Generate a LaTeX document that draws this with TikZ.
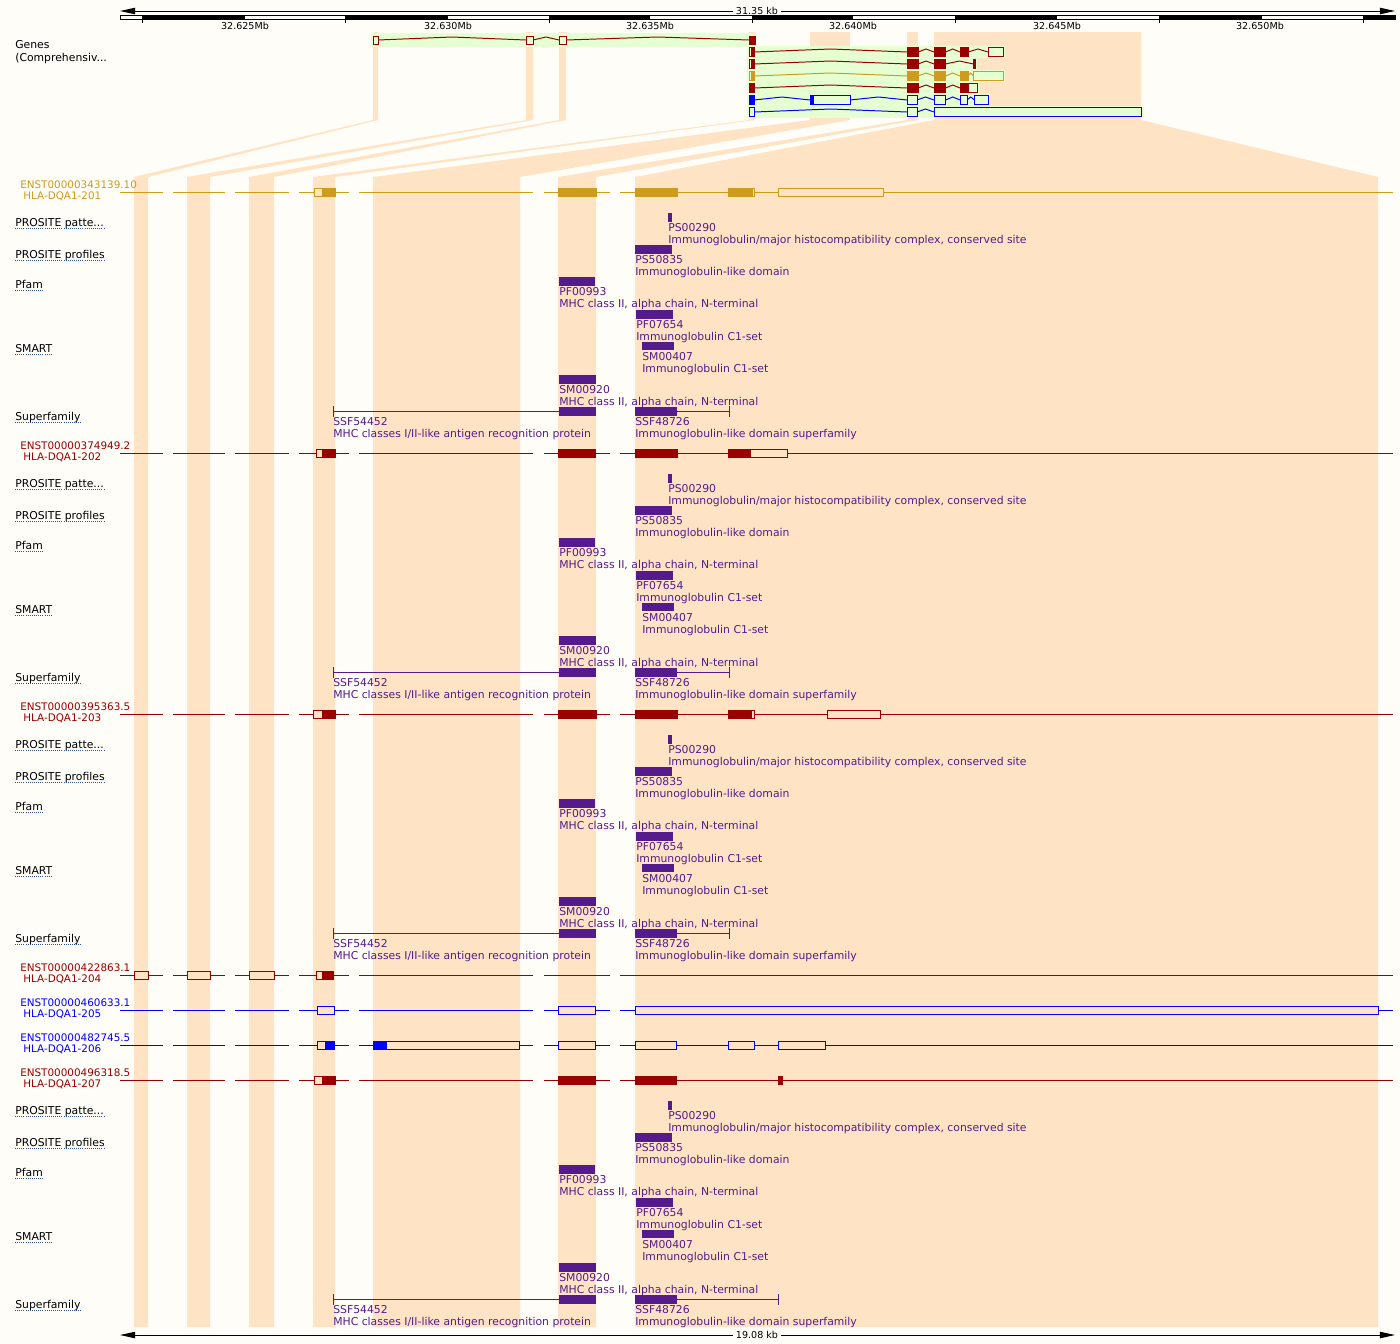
\documentclass[tikz,border=0pt]{standalone}
\usepackage{fontspec}
\setmainfont{DejaVu Sans}
\usetikzlibrary{arrows.meta}

\definecolor{paper}{RGB}{255,253,248}
\definecolor{peach}{RGB}{254,228,196}
\definecolor{hilite}{RGB}{230,255,210}
\definecolor{txred}{RGB}{155,0,0}
\definecolor{txgold}{RGB}{205,155,29}
\definecolor{txblue}{RGB}{0,0,255}
\definecolor{domcol}{RGB}{85,26,139}
\definecolor{linkblue}{RGB}{50,80,170}

\tikzset{
  lbl/.style={font=\fontsize{7.7}{9}\selectfont,anchor=base west,inner sep=0pt},
  txlbl/.style={lbl,font=\fontsize{7.4}{9}\selectfont,text=#1},
  dom/.style={lbl,text=domcol},
  rulelbl/.style={font=\fontsize{6.8}{8}\selectfont,anchor=base,inner sep=0pt},
  uline/.style={linkblue,line width=0.55pt,dash pattern=on 0.7pt off 0.8pt},
  exon/.style={fill=#1,draw=#1,line width=0.6pt},
  utr/.style={draw=#1,fill=peach,line width=0.7pt},
  utrhi/.style={draw=#1,fill=hilite,line width=0.7pt},
  tline/.style={draw=#1,line width=0.7pt},
  scaletip/.tip={Triangle[length=0.38cm,width=0.16cm]}
}
\newcommand{\intronhat}[4]{\draw[tline=#4] (#1,#3) -- ({(#1+#2)/2},{#3-3}) -- (#2,#3);}

\begin{document}
\begin{tikzpicture}[x=0.025cm,y=-0.025cm]
\fill[paper] (0,0) rectangle (1400,1343);
\useasboundingbox (0,0) rectangle (1400,1343);

% exon links, gene view -> transcript view
\foreach \a/\b/\c/\d in {373/378/134/148,526/533/187/210,559/566/249/274,749/755/313/335,
    810/850/373/520,907/918/558/596,934/1141/635/1378}
  \fill[peach] (\a,32) -- (\b,32) -- (\b,120) -- (\d,177) -- (\d,1327) -- (\c,1327) -- (\c,177) -- (\a,120) -- cycle;

% scale bar and ruler
\draw[line width=0.7pt,scaletip-scaletip] (120,11) -- (1395,11);
\node[rulelbl,fill=paper,inner xsep=0.08cm] (toplen) at (757,14) {31.35 kb};
\draw[line width=0.6pt] (120,15.5) rectangle (1395,19.5);
\foreach \a/\b in {142/245,345/448,549/650,752/853,955/1057,1159/1262,1363/1395}
  \fill (\a,15.5) rectangle (\b,19.5);
\foreach \x in {142,345,549,752,955,1159,1363}
  \draw[line width=0.5pt] (\x,19.5) -- (\x,23);
\foreach \x/\t in {245/625,448/630,650/635,853/640,1057/645,1260/650}
  \node[rulelbl] (mb\t) at (\x,29) {32.\t Mb};

% gene view
\node[lbl] (genes) at (15,48) {Genes};
\node[lbl] (genes2) at (15,61) {(Comprehensiv...};
\fill[hilite] (371,33) rectangle (756,47);
\foreach \y/\e in {52/1005,64/977,76/1005,88/979,100/990,112/1143}
  \fill[hilite] (747,\y-6) rectangle (\e,\y+6);

% row 0
\intronhat{378}{526}{40}{txred}
\intronhat{533}{559}{40}{txred}
\intronhat{566}{749}{40}{txred}
\foreach \a/\b in {373/378,526/533,559/566} \draw[utrhi=txred] (\a,36) rectangle (\b,44);
\draw[exon=txred] (749,36) rectangle (755,44);
% row 1
\intronhat{754}{907}{52}{txred}
\intronhat{918}{934}{52}{txred}
\intronhat{945.5}{960}{52}{txred}
\intronhat{968}{988}{52}{txred}
\draw[utrhi=txred] (749,47.5) rectangle (754,56.5);
\foreach \a/\b in {751/754,907/918,934/945.5,960/968} \draw[exon=txred] (\a,47.5) rectangle (\b,56.5);
\draw[utrhi=txred] (988,47.5) rectangle (1003,56.5);
% row 2
\intronhat{754}{907}{64}{txred}
\intronhat{918}{934}{64}{txred}
\intronhat{945.5}{973.5}{64}{txred}
\draw[utrhi=txred] (749,59.5) rectangle (754,68.5);
\foreach \a/\b in {751/754,907/918,934/945.5,973.5/975} \draw[exon=txred] (\a,59.5) rectangle (\b,68.5);
% row 3
\intronhat{754}{907}{76}{txgold}
\intronhat{918}{934}{76}{txgold}
\intronhat{945.5}{960}{76}{txgold}
\intronhat{968}{973.5}{76}{txgold}
\draw[utrhi=txgold] (749,71.5) rectangle (754,80.5);
\foreach \a/\b in {751/754,907/918,934/945.5,960/968} \draw[exon=txgold] (\a,71.5) rectangle (\b,80.5);
\draw[utrhi=txgold] (973.5,71.5) rectangle (1003.5,80.5);
% row 4
\intronhat{754}{907}{88}{txred}
\intronhat{918}{934}{88}{txred}
\intronhat{945.5}{960}{88}{txred}
\foreach \a/\b in {749/754,907/918,934/945.5,960/968} \draw[exon=txred] (\a,83.5) rectangle (\b,92.5);
\draw[utrhi=txred] (968,83.5) rectangle (977,92.5);
% row 5
\intronhat{754}{810}{100}{txblue}
\intronhat{850}{907}{100}{txblue}
\intronhat{917}{934}{100}{txblue}
\intronhat{945.5}{960}{100}{txblue}
\intronhat{967}{974.5}{100}{txblue}
\foreach \a/\b in {749/754,810/813} \draw[exon=txblue] (\a,95.5) rectangle (\b,104.5);
\foreach \a/\b in {813/850,907/917,934/945.5,960/967,974.5/988} \draw[utrhi=txblue] (\a,95.5) rectangle (\b,104.5);
% row 6
\intronhat{754.5}{907}{112}{txblue}
\intronhat{917}{934}{112}{txblue}
\foreach \a/\b in {749/754.5,907/917,934/1141.5} \draw[utrhi=txblue] (\a,107.5) rectangle (\b,116.5);

% transcript view
\foreach \y/\c in {192/txgold,453/txred,714/txred,975/txred,1010/txblue,1045/txblue,1080/txred}
  \foreach \a/\b in {120/163,173/225,235/289,299/349,359/533,544/610,620/1393}
    \draw[tline=\c] (\a,\y) -- (\b,\y);

\node[txlbl=txgold] (t201) at (20,188) {ENST00000343139.10};
\node[txlbl=txgold] (n201) at (23,199) {HLA-DQA1-201};
\foreach \a/\b in {314/322,752/754,778/883} \draw[utr=txgold] (\a,188) rectangle (\b,196);
\foreach \a/\b in {322/335,558/596,635/677,728/752} \draw[exon=txgold] (\a,188) rectangle (\b,196);

\node[txlbl=txred] (t202) at (20,449) {ENST00000374949.2};
\node[txlbl=txred] (n202) at (23,460) {HLA-DQA1-202};
\foreach \a/\b in {316/322,750/787} \draw[utr=txred] (\a,449) rectangle (\b,457);
\foreach \a/\b in {322/335,558/595,635/677,728/750} \draw[exon=txred] (\a,449) rectangle (\b,457);

\node[txlbl=txred] (t203) at (20,710) {ENST00000395363.5};
\node[txlbl=txred] (n203) at (23,721) {HLA-DQA1-203};
\foreach \a/\b in {313/322,751/754,827/880} \draw[utr=txred] (\a,710) rectangle (\b,718);
\foreach \a/\b in {322/335,558/596,635/677,728/751} \draw[exon=txred] (\a,710) rectangle (\b,718);

\node[txlbl=txred] (t204) at (20,971) {ENST00000422863.1};
\node[txlbl=txred] (n204) at (23,982) {HLA-DQA1-204};
\foreach \a/\b in {134/148,187/210,249/274,316/322} \draw[utr=txred] (\a,971) rectangle (\b,979);
\draw[exon=txred] (322,971) rectangle (333,979);

\node[txlbl=txblue] (t205) at (20,1006) {ENST00000460633.1};
\node[txlbl=txblue] (n205) at (23,1017) {HLA-DQA1-205};
\foreach \a/\b in {317/334,558.5/595,635/1378} \draw[utr=txblue] (\a,1006) rectangle (\b,1014);

\node[txlbl=txblue] (t206) at (20,1041) {ENST00000482745.5};
\node[txlbl=txblue] (n206) at (23,1052) {HLA-DQA1-206};
\foreach \a/\b in {317/325,386/519,558/595,635/676,728/754,778/825} \draw[utr=txblue] (\a,1041) rectangle (\b,1049);
\foreach \a/\b in {325/334,373/386} \draw[exon=txblue] (\a,1041) rectangle (\b,1049);

\node[txlbl=txred] (t207) at (20,1076) {ENST00000496318.5};
\node[txlbl=txred] (n207) at (23,1087) {HLA-DQA1-207};
\draw[utr=txred] (314,1076) rectangle (322,1084);
\foreach \a/\b in {322/335,558/595,635/676,778/782} \draw[exon=txred] (\a,1076) rectangle (\b,1084);

% protein domains under each coding transcript
\foreach \y/\e in {192/729,453/729,714/729,1080/778}{
\begin{scope}[shift={(0,\y)}]
\node[lbl] (pat\y) at (15,34) {PROSITE patte...};
\node[lbl] (pro\y) at (15,66) {PROSITE profiles};
\node[lbl] (pfam\y) at (15,96) {Pfam};
\node[lbl] (smart\y) at (15,160) {SMART};
\node[lbl] (sf\y) at (15,228) {Superfamily};
\foreach \n in {pat,pro,pfam,smart,sf}
  \draw[uline] ([yshift=-0.06cm]\n\y.base west) -- ([yshift=-0.06cm]\n\y.base east);
\fill[domcol] (668,21) rectangle (672,30);
\fill[domcol] (635,53) rectangle (672,62);
\fill[domcol] (559,85) rectangle (595,94);
\fill[domcol] (636,118) rectangle (673,127);
\fill[domcol] (642,150) rectangle (674,158);
\fill[domcol] (559,183) rectangle (596,192);
\fill[domcol] (559,215) rectangle (596,224);
\fill[domcol] (635,215) rectangle (677,224);
\draw[domcol,line width=0.7pt] (333,214) -- (333,225) (333,219.5) -- (559,219.5);
\draw[domcol,line width=0.7pt] (677,219.5) -- (\e,219.5) (\e,214) -- (\e,225);
\node[dom] (ps00290\y) at (668,39) {PS00290};
\node[dom] (ps00290d\y) at (668,51) {Immunoglobulin/major histocompatibility complex, conserved site};
\node[dom] (ps50835\y) at (635,71) {PS50835};
\node[dom] (ps50835d\y) at (635,83) {Immunoglobulin-like domain};
\node[dom] (pf00993\y) at (559,103) {PF00993};
\node[dom] (pf00993d\y) at (559,115) {MHC class II, alpha chain, N-terminal};
\node[dom] (pf07654\y) at (636,136) {PF07654};
\node[dom] (pf07654d\y) at (636,148) {Immunoglobulin C1-set};
\node[dom] (sm00407\y) at (642,168) {SM00407};
\node[dom] (sm00407d\y) at (642,180) {Immunoglobulin C1-set};
\node[dom] (sm00920\y) at (559,201) {SM00920};
\node[dom] (sm00920d\y) at (559,213) {MHC class II, alpha chain, N-terminal};
\node[dom] (ssf54452\y) at (333,233) {SSF54452};
\node[dom] (ssf54452d\y) at (333,245) {MHC classes I/II-like antigen recognition protein};
\node[dom] (ssf48726\y) at (635,233) {SSF48726};
\node[dom] (ssf48726d\y) at (635,245) {Immunoglobulin-like domain superfamily};
\end{scope}
}

% bottom scale bar
\draw[line width=0.7pt,scaletip-scaletip] (120,1335) -- (1395,1335);
\node[rulelbl,fill=paper,inner xsep=0.08cm] (botlen) at (757,1338) {19.08 kb};
\end{tikzpicture}
\end{document}
